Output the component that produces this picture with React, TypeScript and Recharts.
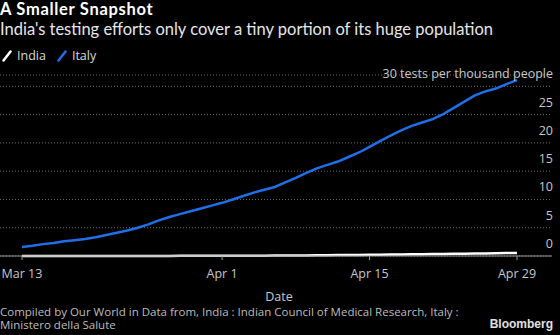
import { LineChart, Line, XAxis, YAxis, CartesianGrid } from 'recharts';

// days counted from Mar 13
const tickDays = [0, 19, 33, 47];
const tickLabels = ['Mar 13', 'Apr 1', 'Apr 15', 'Apr 29'];
const yTicks = [0, 5, 10, 15, 20, 25, 30];

const italy = [
  1.6, 1.8, 2.1, 2.3, 2.6, 2.8, 3.0, 3.3, 3.7, 4.1, 4.5, 5.0, 5.6, 6.3, 6.9, 7.4,
  7.9, 8.4, 8.9, 9.4, 10.0, 10.6, 11.2, 11.7, 12.2, 13.0, 13.8, 14.7, 15.5, 16.1,
  16.7, 17.5, 18.3, 19.3, 20.3, 21.3, 22.2, 23.0, 23.6, 24.2, 25.1, 26.2, 27.3,
  28.4, 29.1, 29.6, 30.4, 31.1,
];
const india = [
  0.005, 0.005, 0.006, 0.007, 0.008, 0.009, 0.01, 0.011, 0.012, 0.013, 0.014,
  0.016, 0.018, 0.02, 0.022, 0.025, 0.028, 0.03, 0.033, 0.036, 0.041, 0.049,
  0.058, 0.066, 0.074, 0.084, 0.098, 0.11, 0.13, 0.14, 0.16, 0.18, 0.19, 0.21,
  0.23, 0.25, 0.28, 0.3, 0.32, 0.34, 0.36, 0.39, 0.41, 0.44, 0.46, 0.49, 0.52, 0.55,
];

const data = italy.map((v, i) => ({ day: i, italy: v, india: india[i] }));

const FONT = '"Open Sans", sans-serif';
const HEAD_FONT = 'Lato, "Open Sans", sans-serif';
const BLUE = '#1f6fe8';

// y labels sit right-aligned just above their gridline
const YTick = (props: any) => {
  const { x, y, payload } = props;
  const label = payload.value === 30 ? '30 tests per thousand people' : String(payload.value);
  return (
    <text x={x} y={y - 8} textAnchor="end" fill="#c8c8c8" fontSize={12.5} fontFamily={FONT}>
      {label}
    </text>
  );
};

const LegendIcon = ({ color }: { color: string }) => (
  <svg width={10} height={12} style={{ marginRight: 5 }}>
    <line x1={1.5} y1={10.5} x2={8.5} y2={1.5} stroke={color} strokeWidth={2.5} strokeLinecap="round" />
  </svg>
);

export default function App() {
  return (
    <div
      style={{
        position: 'fixed', left: 0, top: 0, width: 560, height: 335,
        background: '#000', fontFamily: FONT, overflow: 'hidden',
      }}
    >
      <div style={{ position: 'absolute', left: 0, top: 0, color: '#fff', fontFamily: HEAD_FONT, fontWeight: 700, fontSize: 16.5, letterSpacing: 0.7, lineHeight: '19px' }}>
        A Smaller Snapshot
      </div>
      <div style={{ position: 'absolute', left: 0, top: 19, color: '#e6e6e6', fontFamily: HEAD_FONT, fontSize: 16.5, lineHeight: '20px' }}>
        India's testing efforts only cover a tiny portion of its huge population
      </div>
      <div style={{ position: 'absolute', left: 2, top: 47, display: 'flex', alignItems: 'center', color: '#d8d8d8', fontSize: 12.5 }}>
        <LegendIcon color="#fff" />
        <span style={{ marginRight: 11 }}>India</span>
        <LegendIcon color={BLUE} />
        <span>Italy</span>
      </div>

      <div style={{ position: 'absolute', left: 0, top: 0 }}>
        <LineChart width={560} height={335} data={data} margin={{ top: 75, right: 0, bottom: 49, left: 0 }}>
          <CartesianGrid vertical={false} stroke="#6a6a6a" strokeDasharray="1 2" />
          <XAxis
            dataKey="day"
            type="number"
            domain={[0, 47]}
            ticks={tickDays}
            tickFormatter={(v: number) => tickLabels[tickDays.indexOf(v)]}
            padding={{ left: 22, right: 35 }}
            height={30}
            stroke="#9a9a9a"
            tickSize={4}
            tickMargin={9}
            tick={{ fill: '#c8c8c8', fontSize: 12.5, fontFamily: FONT }}
          />
          <YAxis
            orientation="right"
            width={8}
            domain={[0, 32]}
            ticks={yTicks}
            axisLine={false}
            tickLine={false}
            tickSize={0}
            tickMargin={1}
            tick={YTick}
          />
          <Line type="linear" dataKey="italy" stroke={BLUE} strokeWidth={2.5} dot={false} isAnimationActive={false} />
          <Line type="linear" dataKey="india" stroke="#fff" strokeWidth={2.5} dot={false} isAnimationActive={false} />
        </LineChart>
      </div>

      <div style={{ position: 'absolute', left: 0, width: 558, top: 289, textAlign: 'center', color: '#c8c8c8', fontSize: 12.5, lineHeight: '16px' }}>
        Date
      </div>
      <div style={{ position: 'absolute', left: 0, top: 305, width: 470, color: '#bdbdbd', fontSize: 11.5, lineHeight: '13px' }}>
        Compiled by Our World in Data from, India : Indian Council of Medical Research, Italy : Ministero della Salute
      </div>
      <div style={{ position: 'absolute', right: 7, top: 316, color: '#e0e0e0', fontSize: 12, fontWeight: 700, fontFamily: '"Liberation Sans", Arial, sans-serif', lineHeight: '16px' }}>
        Bloomberg
      </div>
    </div>
  );
}
